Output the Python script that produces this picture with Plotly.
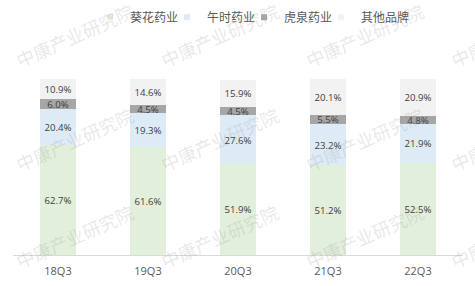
import plotly.graph_objects as go

categories = ["18Q3", "19Q3", "20Q3", "21Q3", "22Q3"]
series_names = ["葵花药业", "午时药业", "虎泉药业", "其他品牌"]
kuihua = [62.7, 61.6, 51.9, 51.2, 52.5]
wushi = [20.4, 19.3, 27.6, 23.2, 21.9]
huquan = [6.0, 4.5, 4.5, 5.5, 4.8]
other = [10.9, 14.6, 15.9, 20.1, 20.9]
colors = ["#e2efda", "#ddebf7", "#a6a6a6", "#f2f2f2"]

watermark = "中康产业研究院"
wm_x_px = [75, 220, 365, 510]
wm_y_px = [36, 140, 237]

W, H = 475, 286
L, R, T, B = 13, 12, 79, 31
FONT = "Open Sans, Noto Sans CJK SC, sans-serif"

fig = go.Figure()
for name, vals, col in zip(series_names, [kuihua, wushi, huquan, other], colors):
    fig.add_trace(go.Bar(
        x=categories, y=vals, name=name, marker=dict(color=col, line=dict(width=0)),
        text=[f"{v:.1f}%" for v in vals], textposition="inside", insidetextanchor="middle",
        textangle=0, textfont=dict(size=11, color="#404040", family=FONT),
        showlegend=False, width=0.4,
    ))
    fig.add_trace(go.Scatter(
        x=[None], y=[None], mode="markers", name=name,
        marker=dict(symbol="square", size=6, color=col), showlegend=True,
    ))
# invisible spacer entry so the last legend label is not clipped
fig.add_trace(go.Scatter(
    x=[None], y=[None], mode="markers", name="\u2002",
    marker=dict(symbol="square", size=6, color="rgba(0,0,0,0)"), showlegend=True,
    hoverinfo="skip",
))

pw, ph = W - L - R, H - T - B
for yp in wm_y_px:
    for xp in wm_x_px:
        fig.add_annotation(
            text=watermark, xref="paper", yref="paper",
            x=(xp - L) / pw, y=(H - B - yp) / ph, showarrow=False,
            textangle=-24, font=dict(size=18, color="rgba(150,150,150,0.22)", family=FONT),
            xanchor="center", yanchor="middle",
        )

fig.update_layout(
    barmode="stack", width=W, height=H,
    margin=dict(l=L, r=R, t=T, b=B, autoexpand=False),
    plot_bgcolor="white", paper_bgcolor="white",
    font=dict(family=FONT, color="#595959"),
    uniformtext=dict(minsize=8, mode="show"),
    legend=dict(orientation="h", x=(90 - L) / pw, xanchor="left", y=0.99, yref="container",
                yanchor="top", font=dict(size=12, color="#595959"),
                itemwidth=30, tracegroupgap=0, traceorder="normal",
                entrywidth=32, entrywidthmode="pixels"),
    xaxis=dict(showline=True, linecolor="#d9d9d9", linewidth=1, ticks="",
               ticklabelstandoff=6,
               tickfont=dict(size=11, color="#595959"), fixedrange=True),
    yaxis=dict(visible=False, range=[0, 100.2], showgrid=False),
)
fig.write_html("out.html")
